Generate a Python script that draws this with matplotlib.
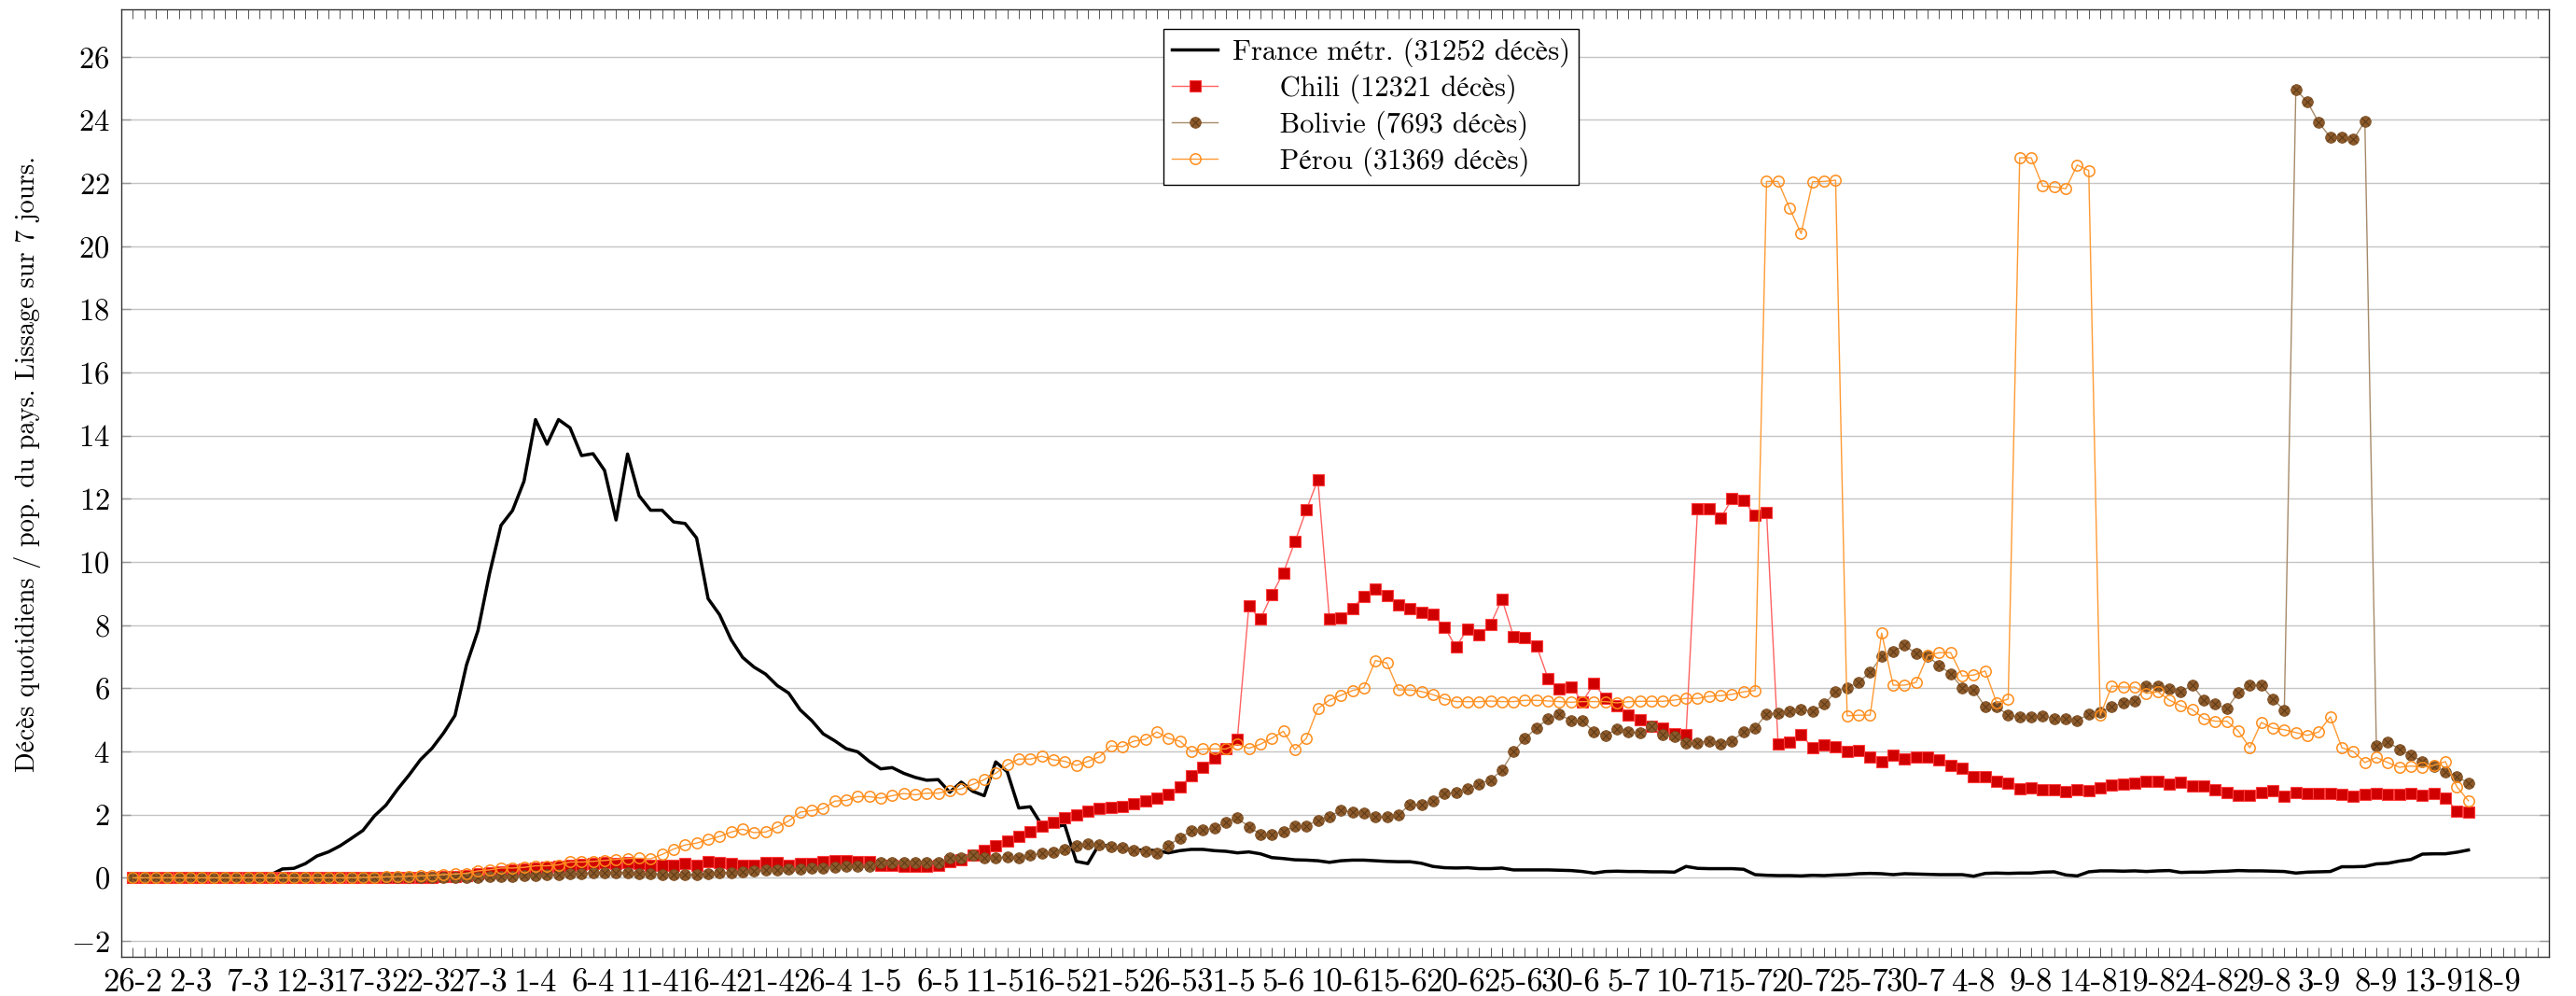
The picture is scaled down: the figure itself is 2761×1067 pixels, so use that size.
import numpy as np
import matplotlib
matplotlib.use("Agg")
import matplotlib.pyplot as plt
from matplotlib.ticker import MultipleLocator

plt.rcParams["font.family"] = ["cmr10", "STIXGeneral", "DejaVu Serif"]
plt.rcParams["mathtext.fontset"] = "cm"
plt.rcParams["axes.formatter.use_mathtext"] = True
plt.rcParams["font.size"] = 22

# jour 0 = 26-2 (2020), une valeur par jour
france = [
    0, 0, 0, 0, 0.01, 0.01, 0.02, 0.02, 0.03, 0.05,
    0.1, 0.12, 0.1, 0.28, 0.3, 0.45, 0.69, 0.82, 1.01, 1.25,
    1.5, 1.96, 2.3, 2.8, 3.25, 3.74, 4.1, 4.58, 5.14, 6.74,
    7.83, 9.63, 11.16, 11.63, 12.56, 14.51, 13.73, 14.51, 14.25, 13.37,
    13.43, 12.9, 11.33, 13.42, 12.1, 11.64, 11.64, 11.27, 11.22, 10.76,
    8.84, 8.33, 7.54, 6.98, 6.67, 6.45, 6.09, 5.85, 5.32, 4.98,
    4.56, 4.34, 4.09, 3.99, 3.69, 3.45, 3.49, 3.31, 3.18, 3.09,
    3.11, 2.71, 3.03, 2.74, 2.6, 3.67, 3.36, 2.21, 2.25, 1.67,
    1.61, 1.67, 0.52, 0.45, 1.07, 0.98, 0.93, 0.88, 0.88, 0.86,
    0.79, 0.86, 0.9, 0.9, 0.86, 0.84, 0.79, 0.82, 0.76, 0.64,
    0.61, 0.57, 0.56, 0.54, 0.49, 0.54, 0.56, 0.56, 0.54, 0.52,
    0.51, 0.51, 0.46, 0.36, 0.32, 0.31, 0.32, 0.29, 0.29, 0.31,
    0.25, 0.25, 0.25, 0.25, 0.24, 0.23, 0.2, 0.15, 0.2, 0.21,
    0.2, 0.2, 0.19, 0.19, 0.18, 0.36, 0.3, 0.29, 0.29, 0.29,
    0.27, 0.1, 0.08, 0.07, 0.07, 0.06, 0.08, 0.07, 0.09, 0.1,
    0.13, 0.14, 0.13, 0.1, 0.13, 0.12, 0.11, 0.1, 0.1, 0.1,
    0.05, 0.14, 0.15, 0.14, 0.15, 0.15, 0.18, 0.19, 0.09, 0.06,
    0.19, 0.22, 0.22, 0.21, 0.22, 0.2, 0.22, 0.23, 0.17, 0.18,
    0.18, 0.2, 0.21, 0.23, 0.22, 0.22, 0.21, 0.2, 0.15, 0.18,
    0.19, 0.2, 0.35, 0.35, 0.36, 0.44, 0.46, 0.53, 0.58, 0.75,
    0.76, 0.76, 0.81, 0.88,
]

chili = [
    0, 0, 0, 0, 0, 0, 0, 0, 0, 0,
    0, 0, 0, 0, 0, 0, 0, 0, 0, 0,
    0, 0, 0, 0, 0, 0.01, 0.02, 0.03, 0.05, 0.08,
    0.12, 0.16, 0.2, 0.24, 0.27, 0.3, 0.33, 0.36, 0.4, 0.42,
    0.44, 0.47, 0.45, 0.47, 0.45, 0.41, 0.41, 0.41, 0.45, 0.41,
    0.5, 0.49, 0.45, 0.41, 0.41, 0.47, 0.47, 0.41, 0.45, 0.45,
    0.5, 0.55, 0.55, 0.5, 0.5, 0.41, 0.41, 0.38, 0.36, 0.38,
    0.41, 0.52, 0.58, 0.72, 0.88, 1.01, 1.15, 1.31, 1.47, 1.65,
    1.76, 1.89, 2.0, 2.11, 2.21, 2.23, 2.26, 2.36, 2.44, 2.53,
    2.65, 2.87, 3.24, 3.49, 3.79, 4.08, 4.38, 8.6, 8.19, 8.97,
    9.66, 10.64, 11.65, 12.61, 8.21, 8.24, 8.53, 8.92, 9.14, 8.93,
    8.65, 8.53, 8.41, 8.34, 7.94, 7.31, 7.87, 7.69, 8.01, 8.83,
    7.65, 7.6, 7.35, 6.32, 5.98, 6.05, 5.58, 6.15, 5.68, 5.45,
    5.15, 5.01, 4.8, 4.74, 4.57, 4.53, 11.7, 11.68, 11.38, 12.0,
    11.96, 11.47, 11.56, 4.25, 4.3, 4.53, 4.12, 4.21, 4.16, 4.0,
    4.04, 3.82, 3.68, 3.89, 3.77, 3.82, 3.82, 3.73, 3.56, 3.47,
    3.2, 3.2, 3.06, 3.01, 2.83, 2.85, 2.78, 2.78, 2.74, 2.78,
    2.76, 2.85, 2.94, 2.97, 3.01, 3.06, 3.06, 2.97, 3.03, 2.92,
    2.92, 2.8, 2.71, 2.62, 2.62, 2.71, 2.76, 2.58, 2.71, 2.67,
    2.67, 2.67, 2.64, 2.57, 2.65, 2.67, 2.65, 2.64, 2.67, 2.6,
    2.67, 2.53, 2.12, 2.09,
]

bolivie = [
    0, 0, 0, 0, 0, 0, 0, 0, 0, 0,
    0, 0, 0, 0, 0, 0, 0, 0, 0, 0,
    0, 0, 0, 0, 0, 0, 0, 0, 0, 0,
    0.02, 0.03, 0.04, 0.05, 0.06, 0.08, 0.09, 0.1, 0.12, 0.14,
    0.16, 0.17, 0.17, 0.17, 0.14, 0.14, 0.11, 0.09, 0.09, 0.09,
    0.14, 0.17, 0.17, 0.2, 0.23, 0.25, 0.25, 0.27, 0.27, 0.31,
    0.31, 0.34, 0.36, 0.38, 0.38, 0.49, 0.49, 0.49, 0.49, 0.47,
    0.49, 0.63, 0.63, 0.72, 0.63, 0.63, 0.67, 0.63, 0.71, 0.77,
    0.8, 0.91, 1.01, 1.08, 1.06, 1.0, 0.95, 0.86, 0.84, 0.79,
    1.03, 1.26, 1.49, 1.52, 1.57, 1.77, 1.89, 1.62, 1.38, 1.38,
    1.46, 1.64, 1.64, 1.82, 1.94, 2.14, 2.08, 2.05, 1.92, 1.92,
    1.99, 2.33, 2.31, 2.44, 2.67, 2.7, 2.83, 2.97, 3.1, 3.41,
    4.0, 4.41, 4.75, 5.03, 5.17, 4.98, 4.97, 4.62, 4.51, 4.71,
    4.62, 4.6, 4.8, 4.53, 4.48, 4.27, 4.27, 4.34, 4.25, 4.34,
    4.62, 4.74, 5.19, 5.22, 5.27, 5.33, 5.27, 5.5, 5.89, 6.02,
    6.19, 6.51, 7.01, 7.17, 7.36, 7.1, 7.01, 6.73, 6.46, 6.02,
    5.95, 5.42, 5.42, 5.15, 5.1, 5.1, 5.13, 5.04, 5.04, 4.97,
    5.19, 5.24, 5.42, 5.54, 5.59, 6.07, 6.07, 5.98, 5.89, 6.1,
    5.63, 5.5, 5.36, 5.86, 6.1, 6.1, 5.66, 5.31, 24.96, 24.57,
    23.91, 23.45, 23.45, 23.38, 23.95, 4.18, 4.3, 4.07, 3.89, 3.68,
    3.54, 3.36, 3.19, 3.01,
]

perou = [
    0, 0, 0, 0, 0, 0, 0, 0, 0, 0,
    0, 0, 0, 0, 0, 0, 0, 0, 0, 0,
    0.01, 0.02, 0.03, 0.04, 0.05, 0.06, 0.08, 0.1, 0.12, 0.14,
    0.22, 0.25, 0.31, 0.31, 0.33, 0.38, 0.38, 0.41, 0.5, 0.5,
    0.52, 0.55, 0.58, 0.61, 0.62, 0.6, 0.74, 0.91, 1.04, 1.1,
    1.21, 1.31, 1.45, 1.54, 1.43, 1.45, 1.61, 1.8, 2.08, 2.13,
    2.19, 2.43, 2.45, 2.57, 2.57, 2.52, 2.6, 2.67, 2.63, 2.68,
    2.68, 2.76, 2.82, 2.96, 3.11, 3.31, 3.58, 3.76, 3.76, 3.85,
    3.74, 3.69, 3.56, 3.69, 3.83, 4.18, 4.15, 4.33, 4.38, 4.62,
    4.42, 4.33, 4.0, 4.08, 4.08, 4.08, 4.23, 4.1, 4.23, 4.42,
    4.64, 4.06, 4.42, 5.36, 5.63, 5.78, 5.93, 6.02, 6.88, 6.8,
    5.95, 5.95, 5.9, 5.8, 5.67, 5.58, 5.58, 5.58, 5.6, 5.58,
    5.58, 5.62, 5.62, 5.6, 5.58, 5.56, 5.58, 5.58, 5.58, 5.54,
    5.58, 5.59, 5.59, 5.59, 5.63, 5.68, 5.68, 5.75, 5.77, 5.81,
    5.89, 5.93, 22.05, 22.05, 21.2, 20.4, 22.04, 22.05, 22.09, 5.13,
    5.15, 5.15, 7.75, 6.1, 6.1, 6.19, 7.04, 7.13, 7.13, 6.39,
    6.42, 6.55, 5.54, 5.66, 22.8, 22.8, 21.9, 21.88, 21.82, 22.57,
    22.4, 5.15, 6.07, 6.04, 6.04, 5.84, 5.89, 5.63, 5.45, 5.33,
    5.04, 4.96, 4.96, 4.65, 4.12, 4.92, 4.74, 4.69, 4.6, 4.51,
    4.62, 5.1, 4.12, 4.0, 3.65, 3.81, 3.65, 3.5, 3.54, 3.5,
    3.56, 3.68, 2.88, 2.44,
]

labels = ["France métr. (31252 décès)", "Chili (12321 décès)",
          "Bolivie (7693 décès)", "Pérou (31369 décès)"]

tick_labels = ["26-2", "2-3", "7-3", "12-3", "17-3", "22-3", "27-3", "1-4", "6-4",
               "11-4", "16-4", "21-4", "26-4", "1-5", "6-5", "11-5", "16-5", "21-5",
               "26-5", "31-5", "5-6", "10-6", "15-6", "20-6", "25-6", "30-6", "5-7",
               "10-7", "15-7", "20-7", "25-7", "30-7", "4-8", "9-8", "14-8", "19-8",
               "24-8", "29-8", "3-9", "8-9", "13-9", "18-9"]

fig = plt.figure(figsize=(27.61, 10.67), dpi=100)
ax = fig.add_axes([0.0471, 0.0394, 0.9424, 0.9512])

l_fr, = ax.plot(np.arange(len(france)), france, color="black", lw=2.5, zorder=3)
l_ch, = ax.plot(np.arange(len(chili)), chili, color="#ff6262", lw=1.0,
                marker="s", ms=8.2, mfc="#d00000", mec="#ff3a3a", mew=0.8, zorder=4)
l_bo, = ax.plot(np.arange(len(bolivie)), bolivie, color="#a68a6a", lw=1.0,
                marker="o", ms=8.4, mfc="#8c5a2b", mec="#7a4c22", mew=0.6, zorder=5)
l_bx, = ax.plot(np.arange(len(bolivie)), bolivie, ls="none", marker="x",
                ms=5.5, mec="#5a3814", mew=0.7, zorder=6)
l_pe, = ax.plot(np.arange(len(perou)), perou, color="#ff9a33", lw=1.0,
                marker="o", ms=8.2, mfc="none", mec="#ff8c1a", mew=1.1, zorder=7)

ax.set_xlim(-1, 210)
ax.set_ylim(-2.5, 27.5)
ax.set_yticks(np.arange(-2, 27, 2))
ax.set_xticks(np.arange(0, 5 * len(tick_labels), 5))
ax.set_xticklabels(tick_labels)
ax.xaxis.set_minor_locator(MultipleLocator(1))

ax.yaxis.grid(True, color="#c4c4c4", lw=1.0)
ax.set_axisbelow(True)

ax.tick_params(axis="x", which="both", direction="in", top=True, bottom=True,
               length=7, width=0.7, color="#555555", pad=9, labelsize=25)
ax.tick_params(axis="y", which="major", direction="in", left=True, right=True,
               length=7, width=1.0, color="#999999", pad=9, labelsize=23.5)
for sp in ax.spines.values():
    sp.set_color("#333333")
    sp.set_linewidth(1.0)

ax.set_ylabel("Décès quotidiens / pop. du pays. Lissage sur 7 jours.", fontsize=20.5)
ax.yaxis.set_label_coords(-0.033, 0.52)

leg = ax.legend([l_fr, l_ch, (l_bo, l_bx), l_pe], labels, loc="upper center",
                bbox_to_anchor=(0.5148, 0.979), fancybox=False, edgecolor="black",
                framealpha=1, handlelength=1.6, borderpad=0.3, labelspacing=0.25,
                handletextpad=0.5, borderaxespad=0, fontsize=22)
leg.get_frame().set_linewidth(1.0)

# texte centré dans la légende, comme pgfplots
fig.canvas.draw()
r = fig.canvas.get_renderer()
texts = leg.get_texts()
fp = texts[0].get_fontproperties()
sp_w = (r.get_text_width_height_descent("a a", fp, ismath=False)[0]
        - r.get_text_width_height_descent("aa", fp, ismath=False)[0])
widths = [t.get_window_extent(r).width for t in texts]
wmax = max(widths)
for t, w, lab in zip(texts, widths, labels):
    n = int(round((wmax - w) / 2 / sp_w))
    t.set_text(" " * n + lab)

fig.savefig("out.png", dpi=100)
